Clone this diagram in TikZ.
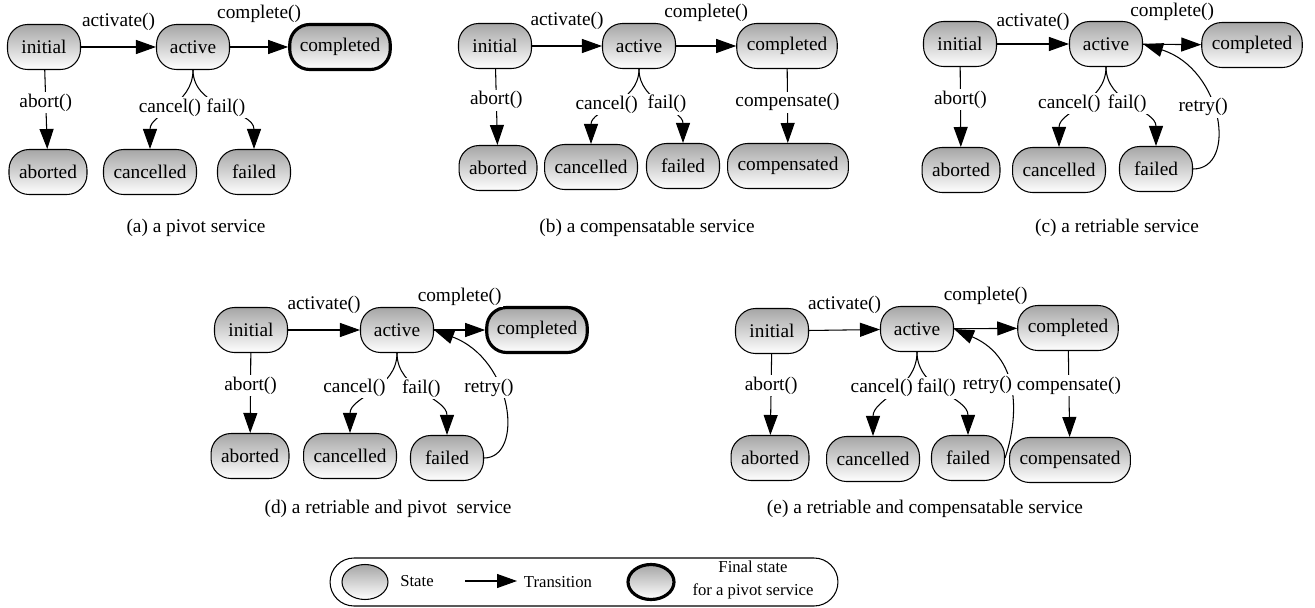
\documentclass[tikz,border=0pt]{standalone}
\usepackage{fontspec}
\setmainfont{Liberation Serif}
\usetikzlibrary{arrows.meta,shapes.geometric}

\tikzset{
  statebox/.style={draw, rounded corners=0.4cm, top color=black!35, bottom color=white,
    minimum width=1.46cm, minimum height=0.9cm, inner xsep=0.2cm, font=\fontsize{11}{13}\selectfont},
  finalbox/.style={statebox, line width=1.8pt},
  tr/.style={-{Triangle[length=0.4cm,width=0.28cm]}},
  lbl/.style={fill=white, inner sep=1pt, font=\fontsize{11}{13}\selectfont},
  captext/.style={font=\fontsize{11}{13}\selectfont},
  legbox/.style={draw, ellipse, top color=black!35, bottom color=white,
    minimum width=0.92cm, minimum height=0.7cm},
  legtext/.style={font=\fontsize{9.5}{13.5}\selectfont},
}

\begin{document}
\begin{tikzpicture}[x=0.02cm, y=-0.02cm, line width=0.6pt]
	\useasboundingbox (0,0) rectangle (1315,608);

	% (a) pivot
	\node (a-init) at (44,47) [statebox] {initial};
	\node (a-act) at (193,47) [statebox] {active};
	\node (a-done) at (340,47) [finalbox] {completed};
	\node (a-abo) at (48,172) [statebox] {aborted};
	\node (a-can) at (150,172) [statebox] {cancelled};
	\node (a-fail) at (254,172) [statebox] {failed};
	\draw[tr] (a-init) -- (a-act) node[lbl, midway, above=0.28cm] {activate()};
	\draw[tr] (a-act) -- (a-done) node[lbl, midway, above=0.44cm] {complete()};
	\draw[tr] (a-init) -- (a-abo) node[lbl, pos=0.41] {abort()};
	\draw[tr] (a-act.south) to[out=-90, in=90] node[lbl, pos=0.47, xshift=-2pt] {cancel()} (a-can.north);
	\draw[tr] (a-act.south) to[out=-90, in=90] node[lbl, pos=0.47, xshift=3pt] {fail()} (a-fail.north);
	\node (a-cap) at (196,228) [captext] {(a) a pivot service};

	% (b) compensatable
	\node (b-init) at (495,46) [statebox] {initial};
	\node (b-act) at (639,46) [statebox] {active};
	\node (b-done) at (787,46) [statebox] {completed};
	\node (b-abo) at (498,168) [statebox] {aborted};
	\node (b-can) at (591,167) [statebox] {cancelled};
	\node (b-fail) at (683,166) [statebox] {failed};
	\node (b-comp) at (788,166) [statebox] {compensated};
	\draw[tr] (b-init) -- (b-act) node[lbl, midway, above=0.28cm] {activate()};
	\draw[tr] (b-act) -- (b-done) node[lbl, midway, above=0.44cm] {complete()};
	\draw[tr] (b-init) -- (b-abo) node[lbl, pos=0.41] {abort()};
	\draw[tr] (b-act.south) to[out=-90, in=90] node[lbl, pos=0.47, xshift=-6pt] {cancel()} (b-can.north);
	\draw[tr] (b-act.south) to[out=-90, in=90] node[lbl, pos=0.47, xshift=4.5pt] {fail()} (b-fail.north);
	\draw[tr] (b-done) -- (b-comp) node[lbl, pos=0.45] {compensate()};
	\node (b-cap) at (647,228) [captext] {(b) a compensatable service};

	% (c) retriable
	\node (c-init) at (960,44) [statebox] {initial};
	\node (c-act) at (1106,44) [statebox] {active};
	\node (c-done) at (1252,45) [statebox] {completed};
	\node (c-abo) at (961,170) [statebox] {aborted};
	\node (c-can) at (1059,170) [statebox] {cancelled};
	\node (c-fail) at (1156,169) [statebox] {failed};
	\draw[tr] (c-init) -- (c-act) node[lbl, midway, above=0.22cm] {activate()};
	\draw[tr] (c-act) -- (c-done) node[lbl, midway, above=0.44cm] {complete()};
	\draw[tr] (c-init) -- (c-abo) node[lbl, pos=0.41] {abort()};
	\draw[tr] (c-act.south) to[out=-90, in=90] node[lbl, pos=0.45, xshift=-9.5pt] {cancel()} (c-can.north);
	\draw[tr] (c-act.south) to[out=-90, in=90] node[lbl, pos=0.45] {fail()} (c-fail.north);
	\draw[tr] (c-fail.east) .. controls +(45,0) and +(80,25) .. (c-act.east)
		node[lbl, pos=0.55, xshift=-5pt] {retry()};
	\node (c-cap) at (1117,228) [captext] {(c) a retriable service};

	% (d) retriable and pivot
	\node (d-init) at (251,330) [statebox] {initial};
	\node (d-act) at (397,330) [statebox] {active};
	\node (d-done) at (537,330) [finalbox] {completed};
	\node (d-abo) at (250,456) [statebox] {aborted};
	\node (d-can) at (350,456) [statebox] {cancelled};
	\node (d-fail) at (447,458) [statebox] {failed};
	\draw[tr] (d-init) -- (d-act) node[lbl, midway, above=0.28cm] {activate()};
	\draw[tr] (d-act) -- (d-done) node[lbl, midway, above=0.44cm] {complete()};
	\draw[tr] (d-init) -- (d-abo) node[lbl, pos=0.41] {abort()};
	\draw[tr] (d-act.south) to[out=-90, in=90] node[lbl, pos=0.42, xshift=-14pt] {cancel()} (d-can.north);
	\draw[tr] (d-act.south) to[out=-90, in=90] node[lbl, pos=0.42, xshift=3pt] {fail()} (d-fail.north);
	\draw[tr] (d-fail.east) .. controls +(40,0) and +(80,30) .. (d-act.east)
		node[lbl, pos=0.52, xshift=-8pt, yshift=8pt] {retry()};
	\node (d-cap) at (388,509) [captext] {(d) a retriable and pivot \ service};

	% (e) retriable and compensatable
	\node (e-init) at (772,331) [statebox] {initial};
	\node (e-act) at (917,329) [statebox] {active};
	\node (e-done) at (1068,328) [statebox] {completed};
	\node (e-abo) at (770,458) [statebox] {aborted};
	\node (e-can) at (873,459) [statebox] {cancelled};
	\node (e-fail) at (968,458) [statebox] {failed};
	\node (e-comp) at (1070,460) [statebox] {compensated};
	\draw[tr] (e-init) -- (e-act) node[lbl, midway, above=0.28cm] {activate()};
	\draw[tr] (e-act) -- (e-done) node[lbl, midway, above=0.44cm] {complete()};
	\draw[tr] (e-init) -- (e-abo) node[lbl, pos=0.39] {abort()};
	\draw[tr] (e-act.south) to[out=-90, in=90] node[lbl, pos=0.42, xshift=-10.5pt] {cancel()} (e-can.north);
	\draw[tr] (e-act.south) to[out=-90, in=90] node[lbl, pos=0.42] {fail()} (e-fail.north);
	\draw[tr] (e-fail.east) .. controls +(12,-35) and +(70,30) .. (e-act.east)
		node[lbl, pos=0.5, xshift=-13pt, yshift=4pt] {retry()};
	\draw[tr] (e-done) -- (e-comp) node[lbl, pos=0.4] {compensate()};
	\node (e-cap) at (925,509) [captext] {(e) a retriable and compensatable service};

	% legend
	\node (legend) at (584,582) [draw, rounded corners=0.48cm, minimum width=10.16cm, minimum height=0.96cm] {};
	\node (leg-state) at (365,582) [legbox] {};
	\node (leg-statetxt) at (417,581) [legtext] {State};
	\coordinate (leg-t0) at (465,581);
	\coordinate (leg-t1) at (517,581);
	\draw[tr] (leg-t0) -- (leg-t1);
	\node (leg-trtxt) at (558,582) [legtext] {Transition};
	\node (leg-final) at (651,582) [legbox, line width=1.8pt] {};
	\node (leg-finaltxt) at (753,580) [legtext, align=center] {Final state\\for a pivot service};
\end{tikzpicture}
\end{document}
